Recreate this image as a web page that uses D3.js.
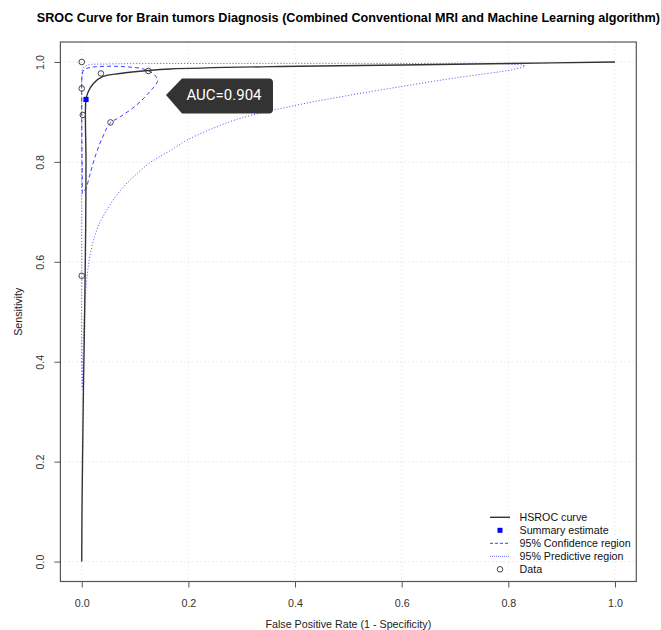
<!DOCTYPE html>
<html>
<head>
<meta charset="utf-8">
<script src="https://cdn.jsdelivr.net/npm/d3@7"></script>
<style>
  body { margin: 0; background: #fff; }
  text { font-family: "Liberation Sans", Arial, sans-serif; }
</style>
</head>
<body>
<div id="plot"></div>
<script>
// tick values
const xTicks = [0, 0.2, 0.4, 0.6, 0.8, 1.0];
const yTicks = [0, 0.2, 0.4, 0.6, 0.8, 1.0];

// study data (fpr, sensitivity)
const dataFpr  = [0, 0.036, 0.125, 0, 0.002, 0.054, 0];
const dataSens = [1.0, 0.977, 0.982, 0.947, 0.894, 0.879, 0.572];

// summary estimate
const summaryFpr = 0.008, summarySens = 0.925;
const aucLabel = "AUC=0.904";

// HSROC curve
const hsrocFpr  = [0, 0.0005, 0.0015, 0.003, 0.0055, 0.0075, 0.008, 0.008, 0.012, 0.022, 0.040, 0.072, 0.125, 0.166, 0.372, 0.6, 0.8, 1.0];
const hsrocSens = [0, 0.10, 0.20, 0.33, 0.50, 0.68, 0.80, 0.925, 0.94, 0.957, 0.971, 0.977, 0.983, 0.986, 0.991, 0.994, 0.997, 1.0];

// 95% confidence region (closed)
const confFpr  = [0.002, 0.001, 0.0003, 0.0, 0.0, 0.0005, 0.004, 0.016, 0.072, 0.122, 0.139, 0.142, 0.128, 0.103, 0.072, 0.053, 0.037, 0.025, 0.016, 0.009, 0.004];
const confSens = [0.737, 0.78, 0.84, 0.90, 0.95, 0.972, 0.984, 0.989, 0.991, 0.984, 0.971, 0.961, 0.941, 0.914, 0.890, 0.877, 0.844, 0.810, 0.777, 0.750, 0.740];

// 95% predictive region (closed)
const predFpr  = [0.001, 0.0, 0.0, 0.0, 0.0, 0.0005, 0.003, 0.012, 0.05, 0.3, 0.6, 0.8, 0.831, 0.809, 0.70, 0.60, 0.50, 0.40, 0.30, 0.25, 0.20, 0.165, 0.13, 0.10, 0.08, 0.06, 0.045, 0.033, 0.024, 0.016, 0.011, 0.007, 0.0045, 0.003, 0.002];
const predSens = [0.345, 0.40, 0.60, 0.80, 0.93, 0.972, 0.988, 0.994, 0.996, 0.997, 0.997, 0.996, 0.992, 0.985, 0.968, 0.951, 0.933, 0.913, 0.888, 0.869, 0.845, 0.822, 0.800, 0.773, 0.752, 0.725, 0.700, 0.676, 0.650, 0.615, 0.580, 0.535, 0.490, 0.445, 0.395];

const legendItems = ["HSROC curve", "Summary estimate", "95% Confidence region", "95% Predictive region", "Data"];

const W = 661, H = 630;
const box = {left: 60.4, right: 636.3, top: 42, bottom: 581.5};

const svg = d3.select("#plot").append("svg")
  .attr("width", W).attr("height", H);

const x = d3.scaleLinear().domain([-0.04, 1.04]).range([box.left, box.right]);
const y = d3.scaleLinear().domain([-0.04, 1.04]).range([box.bottom, box.top]);

svg.append("clipPath").attr("id", "clip")
  .append("rect")
    .attr("x", box.left).attr("y", box.top)
    .attr("width", box.right - box.left).attr("height", box.bottom - box.top);

// grid
svg.append("g").selectAll("line").data(xTicks).join("line")
  .attr("x1", d => x(d)).attr("x2", d => x(d))
  .attr("y1", box.top).attr("y2", box.bottom)
  .attr("stroke", "#dedede").attr("stroke-dasharray", "1,3");
svg.append("g").selectAll("line").data(yTicks).join("line")
  .attr("y1", d => y(d)).attr("y2", d => y(d))
  .attr("x1", box.left).attr("x2", box.right)
  .attr("stroke", "#dedede").attr("stroke-dasharray", "1,3");

// axes
const xAxis = svg.append("g")
  .attr("transform", `translate(0,${box.bottom})`)
  .call(d3.axisBottom(x).tickValues(xTicks).tickFormat(d3.format(".1f")).tickSize(6).tickPadding(12));
const yAxis = svg.append("g")
  .attr("transform", `translate(${box.left},0)`)
  .call(d3.axisLeft(y).tickValues(yTicks).tickFormat(d3.format(".1f")).tickSize(6));
[xAxis, yAxis].forEach(a => {
  a.select(".domain").remove();
  a.selectAll(".tick line").attr("stroke", "#555");
  a.selectAll("text").attr("font-size", 10.7).attr("fill", "#333")
    .style("font-family", "'Liberation Sans', Arial, sans-serif");
});
yAxis.selectAll(".tick text")
  .attr("x", null).attr("dy", null)
  .attr("text-anchor", "middle")
  .attr("transform", "translate(-16,0) rotate(-90)");

// box
svg.append("rect")
  .attr("x", box.left).attr("y", box.top)
  .attr("width", box.right - box.left).attr("height", box.bottom - box.top)
  .attr("fill", "none").attr("stroke", "#555").attr("stroke-width", 1.2);

const plot = svg.append("g").attr("clip-path", "url(#clip)");

const pred = predFpr.map((f, i) => [f, predSens[i]]);
const conf = confFpr.map((f, i) => [f, confSens[i]]);
const hsroc = hsrocFpr.map((f, i) => [f, hsrocSens[i]]);

plot.append("path")
  .attr("d", d3.line().x(d => x(d[0])).y(d => y(d[1])).curve(d3.curveCatmullRomClosed.alpha(0.5))(pred))
  .attr("fill", "none").attr("stroke", "#0000ff").attr("stroke-opacity", 0.7)
  .attr("stroke-width", 1).attr("stroke-dasharray", "1,2");

plot.append("path")
  .attr("d", d3.line().x(d => x(d[0])).y(d => y(d[1])).curve(d3.curveCatmullRomClosed.alpha(0.5))(conf))
  .attr("fill", "none").attr("stroke", "#0000ff").attr("stroke-opacity", 0.75)
  .attr("stroke-width", 1).attr("stroke-dasharray", "4,3");

plot.append("path")
  .attr("d", d3.line().x(d => x(d[0])).y(d => y(d[1])).curve(d3.curveCatmullRom.alpha(0.5))(hsroc))
  .attr("fill", "none").attr("stroke", "#333").attr("stroke-width", 1.4);

plot.append("g").selectAll("circle").data(dataFpr).join("circle")
  .attr("cx", d => x(d)).attr("cy", (d, i) => y(dataSens[i]))
  .attr("r", 2.8).attr("fill", "none").attr("stroke", "#444").attr("stroke-width", 1);

plot.append("rect")
  .attr("x", x(summaryFpr) - 2.6).attr("y", y(summarySens) - 2.6)
  .attr("width", 5.2).attr("height", 5.2).attr("fill", "#0000ff");

// AUC callout
const tipX = x(0.158), tipY = y(0.934);
const cw = 107, cr = 4;
svg.append("path")
  .attr("d", `M${tipX},${tipY} L${tipX + 16},${tipY - 16.5} L${tipX + cw - cr},${tipY - 16.5}
    Q${tipX + cw},${tipY - 16.5} ${tipX + cw},${tipY - 16.5 + cr}
    L${tipX + cw},${tipY + 18.5 - cr} Q${tipX + cw},${tipY + 18.5} ${tipX + cw - cr},${tipY + 18.5}
    L${tipX + 16},${tipY + 18.5} Z`)
  .attr("fill", "#333");
svg.append("text")
  .attr("x", tipX + 58).attr("y", tipY + 5.5)
  .attr("text-anchor", "middle").attr("fill", "#fff")
  .attr("font-size", 15).style("font-family", "Roboto, sans-serif")
  .text(aucLabel);

// titles
svg.append("text")
  .attr("x", (box.left + box.right) / 2).attr("y", 22)
  .attr("text-anchor", "middle").attr("font-weight", "bold").attr("font-size", 12)
  .attr("textLength", 623).attr("lengthAdjust", "spacingAndGlyphs")
  .text("SROC Curve for Brain tumors Diagnosis (Combined Conventional MRI and Machine Learning algorithm)");
svg.append("text")
  .attr("x", (box.left + box.right) / 2).attr("y", 627.5)
  .attr("text-anchor", "middle").attr("font-size", 10.7).attr("fill", "#222")
  .text("False Positive Rate (1 - Specificity)");
svg.append("text")
  .attr("transform", `translate(22,${(box.top + box.bottom) / 2}) rotate(-90)`)
  .attr("text-anchor", "middle").attr("font-size", 10.7).attr("fill", "#222")
  .text("Sensitivity");

// legend
const lg = svg.append("g");
const ly0 = 517.3, lstep = 13;
legendItems.forEach((t, i) => {
  const yy = ly0 + i * lstep;
  lg.append("text").attr("x", 519.5).attr("y", yy + 3.8)
    .attr("font-size", 10.7).attr("fill", "#111").text(t);
});
lg.append("line").attr("x1", 490).attr("x2", 510).attr("y1", ly0).attr("y2", ly0)
  .attr("stroke", "#333").attr("stroke-width", 1.4);
lg.append("rect").attr("x", 497.5).attr("y", ly0 + lstep - 2.5).attr("width", 5).attr("height", 5).attr("fill", "#0000ff");
lg.append("line").attr("x1", 490).attr("x2", 510).attr("y1", ly0 + 2 * lstep).attr("y2", ly0 + 2 * lstep)
  .attr("stroke", "#0000ff").attr("stroke-opacity", 0.75).attr("stroke-dasharray", "3,2");
lg.append("line").attr("x1", 490).attr("x2", 510).attr("y1", ly0 + 3 * lstep).attr("y2", ly0 + 3 * lstep)
  .attr("stroke", "#0000ff").attr("stroke-opacity", 0.6).attr("stroke-dasharray", "1,1");
lg.append("circle").attr("cx", 500).attr("cy", ly0 + 4 * lstep).attr("r", 2.8)
  .attr("fill", "none").attr("stroke", "#444");
</script>
</body>
</html>
